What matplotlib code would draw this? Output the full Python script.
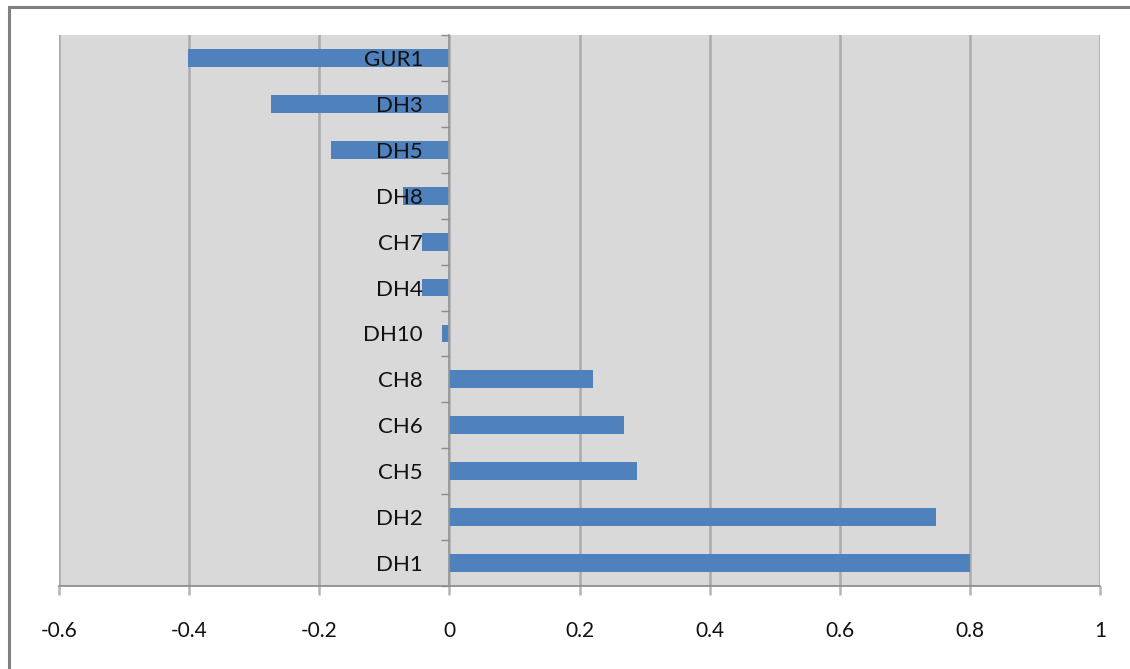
import matplotlib
matplotlib.use("Agg")
import matplotlib.pyplot as plt
from matplotlib.patches import Rectangle
from matplotlib.ticker import FixedLocator

# Data (top to bottom as displayed)
categories = ["GUR1", "DH3", "DH5", "DH8", "CH7", "DH4", "DH10",
              "CH8", "CH6", "CH5", "DH2", "DH1"]
values = [-0.402, -0.274, -0.182, -0.071, -0.042, -0.042, -0.011,
          0.220, 0.268, 0.289, 0.748, 0.800]
x_ticks = [-0.6, -0.4, -0.2, 0, 0.2, 0.4, 0.6, 0.8, 1]
x_tick_labels = ["-0.6", "-0.4", "-0.2", "0", "0.2", "0.4", "0.6", "0.8", "1"]

plt.rcParams["font.family"] = ["Lato", "DejaVu Sans"]

W, H, DPI = 1130, 669, 100
fig = plt.figure(figsize=(W / DPI, H / DPI), dpi=DPI)
fig.patch.set_facecolor("white")

ax = fig.add_axes([59 / W, 1 - 586 / H, (1100 - 59) / W, (586 - 35) / H])
ax.set_facecolor("#d9d9d9")

n = len(categories)
ypos = list(range(n))
ax.barh(ypos, values, height=0.39, color="#4f81bd", zorder=1)

ax.set_xlim(-0.6, 1.0)
ax.set_ylim(n - 0.5, -0.5)

# x axis: vertical gridlines with ticks hanging below the plot area
ax.set_xticks(x_ticks)
ax.set_xticklabels(x_tick_labels, fontsize=15, color="#111111")
ax.grid(axis="x", color="#ababab", linewidth=1.8)
ax.tick_params(axis="x", length=6.5, width=1.8, color="#b5b5b5", pad=19)
ax.set_axisbelow(True)

# category axis drawn at x = 0, labels sitting over the bars
ax.spines["left"].set_position(("data", 0))
ax.spines["left"].set_color("#999999")
ax.spines["left"].set_linewidth(1.2)
ax.spines["left"].set_zorder(2.6)
ax.set_yticks(ypos)
ax.set_yticklabels(categories, fontsize=16, color="#111111")
ax.yaxis.set_minor_locator(FixedLocator([i - 0.5 for i in range(n + 1)]))
ax.tick_params(axis="y", which="major", length=0, pad=19)
ax.tick_params(axis="y", which="minor", length=6, width=1.0, color="#8c8c8c")
ax.yaxis.set_zorder(3)

ax.spines["bottom"].set_color("#888888")
ax.spines["bottom"].set_linewidth(1.2)
ax.spines["top"].set_visible(False)
ax.spines["right"].set_visible(False)

# outer chart border
fig.add_artist(Rectangle((8.5 / W, -0.2), 1.5, 1.2 - 7.5 / H,
                         transform=fig.transFigure, fill=False,
                         edgecolor="#808080", linewidth=2.2))

fig.savefig("out.png", dpi=DPI)
